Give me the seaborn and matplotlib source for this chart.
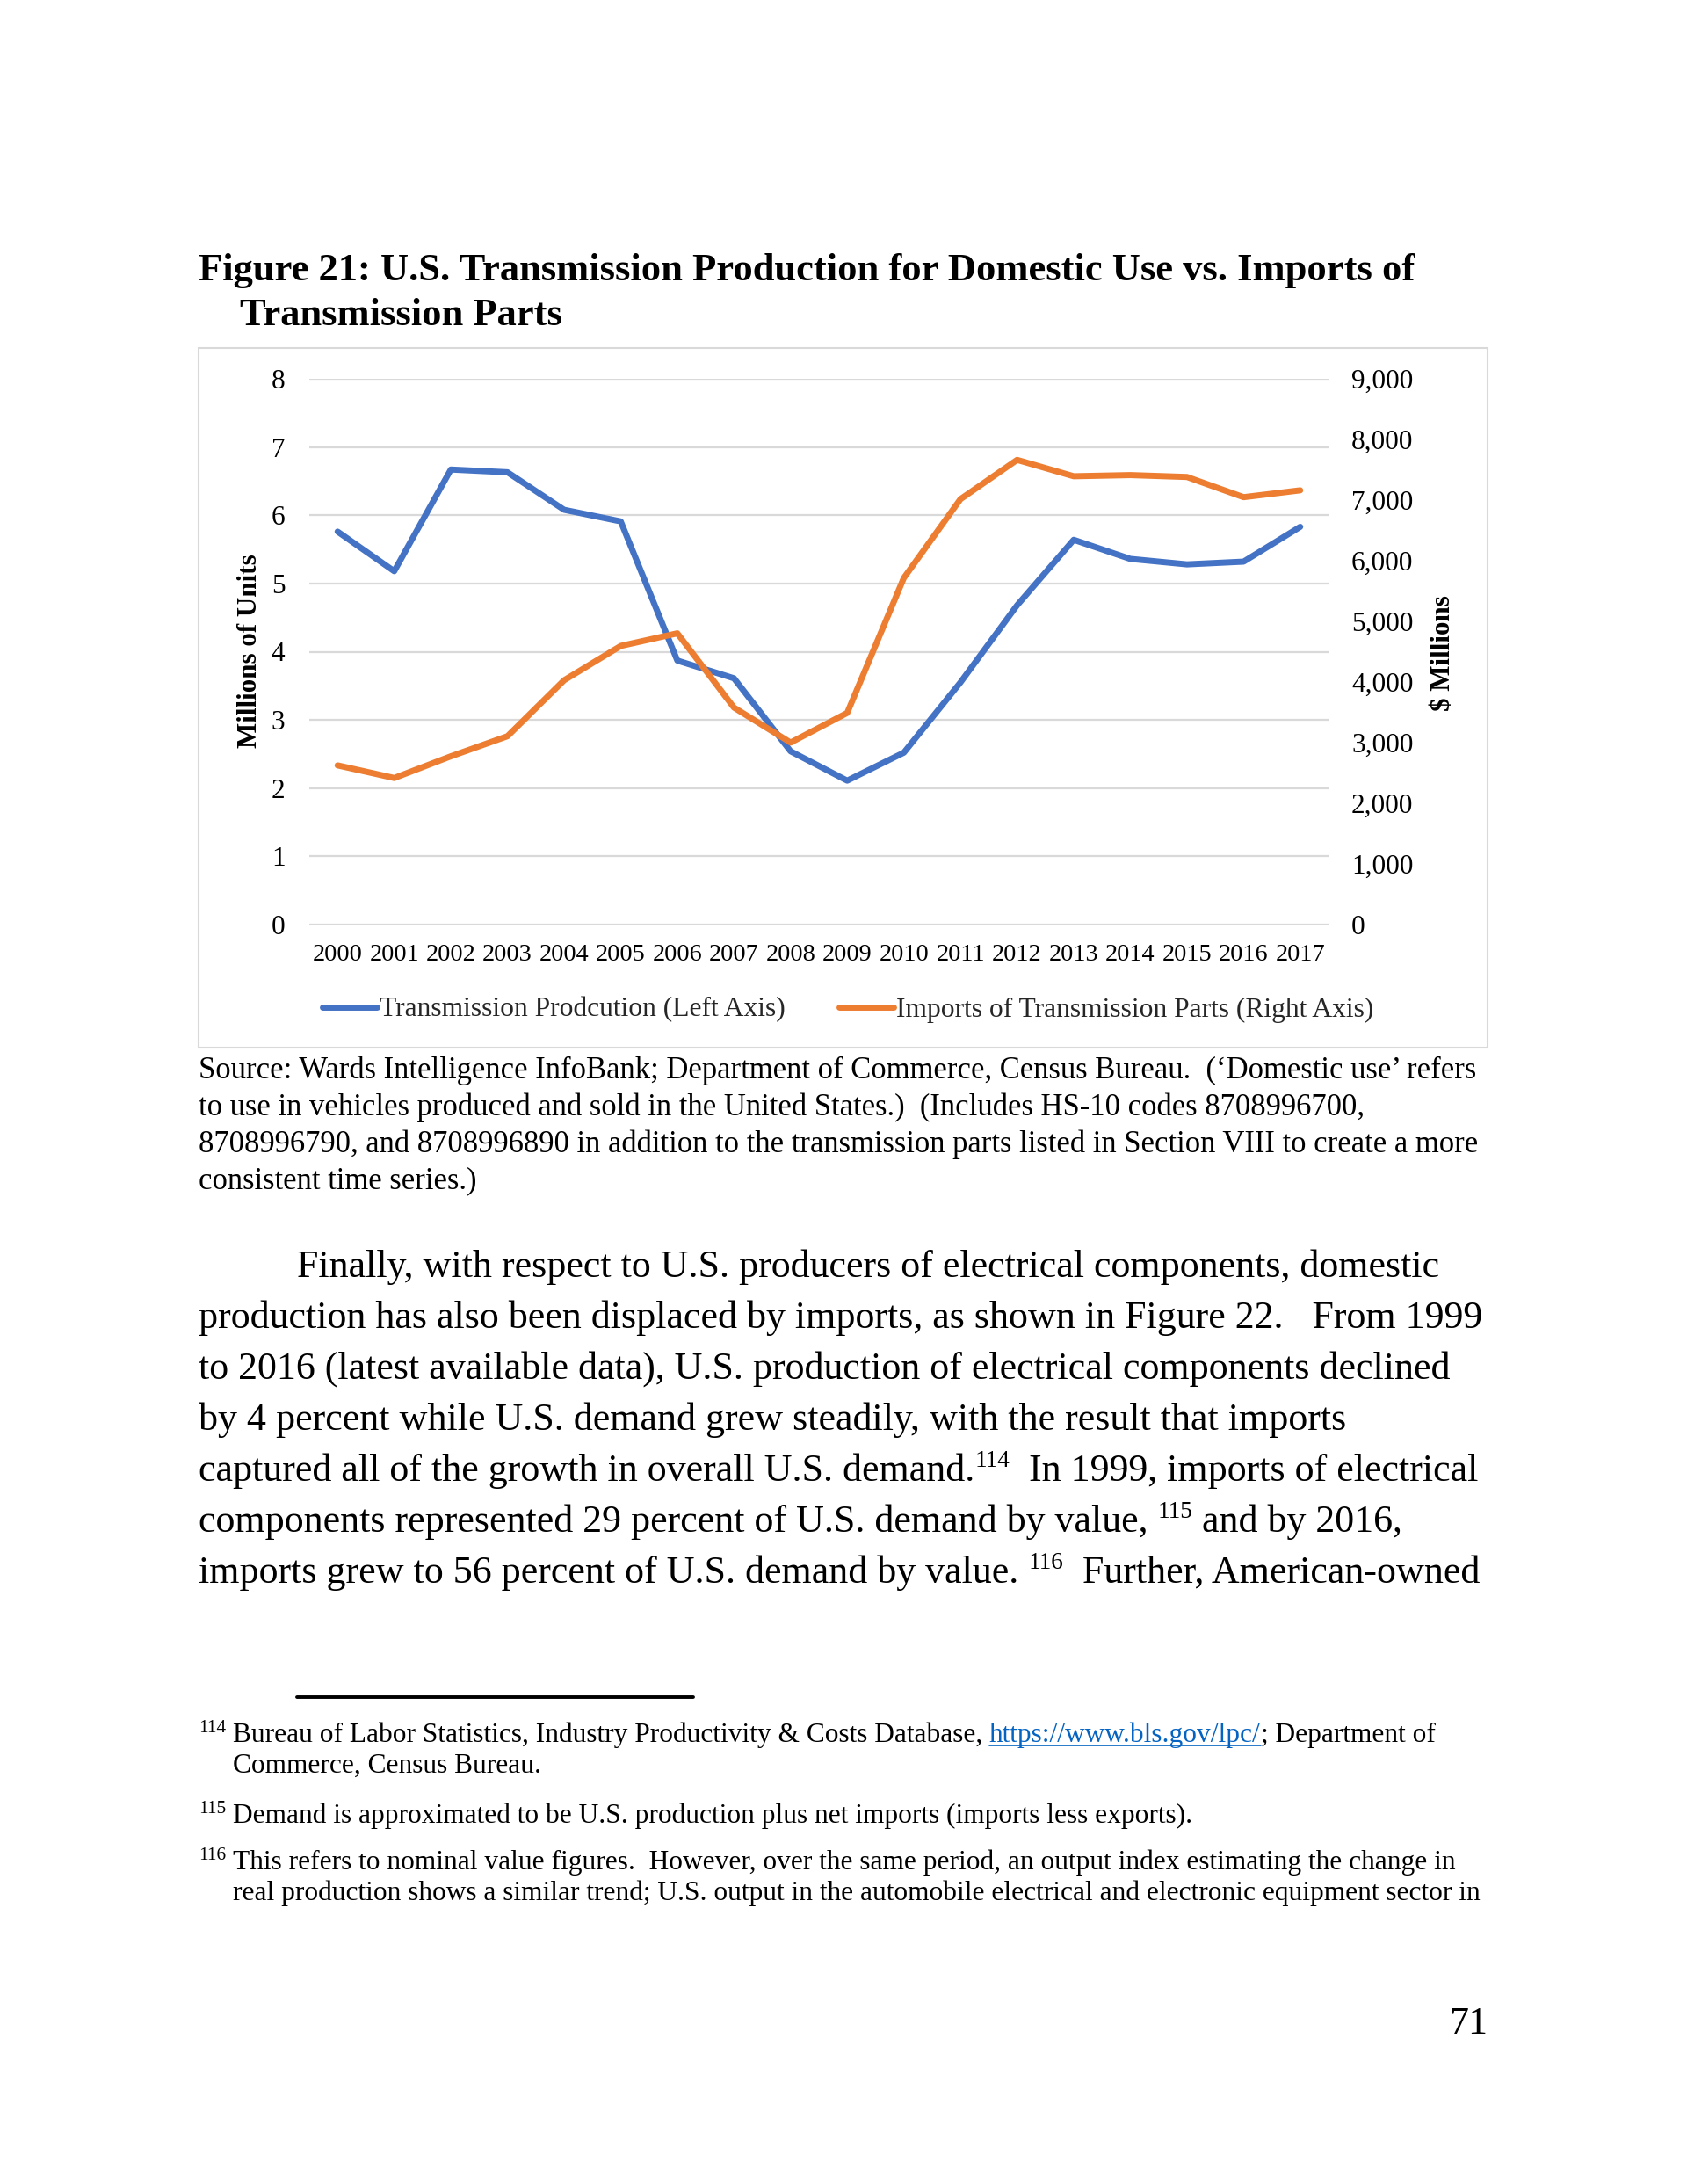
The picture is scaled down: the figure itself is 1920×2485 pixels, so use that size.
import numpy as np
import pandas as pd
import matplotlib
matplotlib.use("Agg")
import matplotlib.pyplot as plt
import seaborn as sns
from matplotlib.font_manager import FontProperties
from matplotlib.lines import Line2D
from matplotlib.patches import Rectangle
from matplotlib.ticker import StrMethodFormatter

# ---------------- data ----------------
years = list(range(2000, 2018))
production = [5.76, 5.18, 6.67, 6.63, 6.08, 5.91, 3.87, 3.61, 2.54, 2.11,
              2.52, 3.55, 4.68, 5.64, 5.36, 5.28, 5.32, 5.83]          # millions of units
imports = [2625, 2417, 2775, 3106, 4029, 4595, 4803, 3578, 3001, 3490,
           5716, 7016, 7663, 7393, 7412, 7381, 7048, 7161]             # $ millions
left_ticks = [0, 1, 2, 3, 4, 5, 6, 7, 8]
right_ticks = [0, 1000, 2000, 3000, 4000, 5000, 6000, 7000, 8000, 9000]
series_labels = ["Transmission Prodcution (Left Axis)",
                 "Imports of Transmission Parts (Right Axis)"]

title_lines = ["Figure 21: U.S. Transmission Production for Domestic Use vs. Imports of",
               "Transmission Parts"]
left_title = "Millions of Units"
right_title = "$ Millions"
source_lines = [
    "Source: Wards Intelligence InfoBank; Department of Commerce, Census Bureau.  (\u2018Domestic use\u2019 refers",
    "to use in vehicles produced and sold in the United States.)  (Includes HS-10 codes 8708996700,",
    "8708996790, and 8708996890 in addition to the transmission parts listed in Section VIII to create a more",
    "consistent time series.)",
]
body_lines = [
    [("Finally, with respect to U.S. producers of electrical components, domestic", "n")],
    [("production has also been displaced by imports, as shown in Figure 22.   From 1999", "n")],
    [("to 2016 (latest available data), U.S. production of electrical components declined", "n")],
    [("by 4 percent while U.S. demand grew steadily, with the result that imports", "n")],
    [("captured all of the growth in overall U.S. demand.", "n"), ("114", "sup"),
     ("  In 1999, imports of electrical", "n")],
    [("components represented 29 percent of U.S. demand by value, ", "n"), ("115", "sup"),
     (" and by 2016,", "n")],
    [("imports grew to 56 percent of U.S. demand by value. ", "n"), ("116", "sup"),
     ("  Further, American-owned", "n")],
]
footnotes = [
    ("114", [[("Bureau of Labor Statistics, Industry Productivity & Costs Database, ", "n"),
              ("https://www.bls.gov/lpc/", "link"), ("; Department of", "n")],
             [("Commerce, Census Bureau.", "n")]]),
    ("115", [[("Demand is approximated to be U.S. production plus net imports (imports less exports).", "n")]]),
    ("116", [[("This refers to nominal value figures.  However, over the same period, an output index estimating the change in", "n")],
             [("real production shows a similar trend; U.S. output in the automobile electrical and electronic equipment sector in", "n")]]),
]
page_number = "71"

# ---------------- style ----------------
sns.set_style("white")
FAM = ["Liberation Serif", "DejaVu Serif"]
plt.rcParams["font.family"] = FAM
BLUE = "#4472C4"
ORANGE = "#ED7D31"
GRID = "#D9D9D9"
TXT = "#000000"
LINK = "#0563C1"

W, H = 1920, 2485
fig = plt.figure(figsize=(W / 100, H / 100), dpi=100)
fig.patch.set_facecolor("white")
renderer = fig.canvas.get_renderer()


def tw(s, size, weight="normal"):
    prop = FontProperties(family=FAM, size=size, weight=weight)
    w1, _, _ = renderer.get_text_width_height_descent("|" + s + "|", prop, ismath=False)
    w0, _, _ = renderer.get_text_width_height_descent("||", prop, ismath=False)
    return w1 - w0


def fit(s, target, weight="normal"):
    return 20.0 * target / tw(s, 20.0, weight)


def put(x, y, s, size, weight="normal", color=TXT, ha="left"):
    fig.text(x / W, 1 - y / H, s, fontsize=size, family=FAM, weight=weight,
             color=color, ha=ha, va="baseline")


def runs(x, y, parts, size):
    px = size * 100 / 72
    for s, kind in parts:
        if kind == "sup":
            sz, yy = size * 0.62, y - 0.36 * px
        else:
            sz, yy = size, y
        col = LINK if kind == "link" else TXT
        put(x, yy, s, sz, color=col)
        w = tw(s, sz)
        if kind == "link":
            fig.add_artist(Line2D([x / W, (x + w) / W], [1 - (y + 4) / H] * 2,
                                  color=LINK, lw=1.2))
        x += w


# ---------------- title ----------------
title_size = fit(title_lines[0], 1380, "bold")
put(226, 319, title_lines[0], title_size, weight="bold")
put(273, 370, title_lines[1], title_size, weight="bold")

# ---------------- chart frame ----------------
fig.add_artist(Rectangle((226 / W, 1 - 1192 / H), (1693 - 226) / W, (1192 - 396) / H,
                         transform=fig.transFigure, fill=False, ec=GRID, lw=1.5))

legend_size = fit(series_labels[0], 461)
year_size = fit("2000", 56)
ytick_size = fit("9,000", 70)
axis_title_size = fit(left_title, 220, "bold")

ax_l, ax_r, ax_t, ax_b = 352, 1512, 431, 1052
ax = fig.add_axes([ax_l / W, 1 - ax_b / H, (ax_r - ax_l) / W, (ax_b - ax_t) / H])
ax2 = ax.twinx()

df_prod = pd.DataFrame({"Year": years, "Units": production})
df_imp = pd.DataFrame({"Year": years, "Value": imports})
sns.lineplot(data=df_prod, x="Year", y="Units", color=BLUE, lw=5, ax=ax,
             label=series_labels[0], legend=False, solid_capstyle="round")
sns.lineplot(data=df_imp, x="Year", y="Value", color=ORANGE, lw=5, ax=ax2,
             label=series_labels[1], legend=False, solid_capstyle="round")

ax.set_xlim(years[0] - 0.5, years[-1] + 0.5)
ax.set_ylim(left_ticks[0], left_ticks[-1])
ax2.set_ylim(right_ticks[0], right_ticks[-1])
ax.set_yticks(left_ticks)
ax2.set_yticks(right_ticks)
ax2.yaxis.set_major_formatter(StrMethodFormatter("{x:,.0f}"))
ax.set_xticks(years)
ax.set_xticklabels([str(y) for y in years])
for a in (ax, ax2):
    for sp in a.spines.values():
        sp.set_visible(False)
    a.set_xlabel("")
    a.set_ylabel("")
ax.grid(False)
ax2.grid(False)
ax.yaxis.grid(True, color=GRID, lw=1.6)
ax.set_axisbelow(True)
ax.tick_params(axis="y", length=0, pad=25.5, labelsize=ytick_size, labelcolor=TXT)
ax.tick_params(axis="x", length=0, pad=16, labelsize=year_size, labelcolor=TXT)
ax2.tick_params(axis="y", length=0, pad=18.7, labelsize=ytick_size, labelcolor=TXT)
for lab in ax.get_yticklabels():
    lab.set_horizontalalignment("center")

fig.text(285 / W, 1 - 741 / H, left_title, rotation=90, ha="center", va="center",
         fontsize=axis_title_size, weight="bold", family=FAM, color=TXT)
fig.text(1642 / W, 1 - 743 / H, right_title, rotation=90, ha="center", va="center",
         fontsize=axis_title_size, weight="bold", family=FAM, color=TXT)

legend_px = legend_size * 100 / 72
handles = [ax.get_lines()[0], ax2.get_lines()[0]]
fig.legend(handles, series_labels, loc="center", bbox_to_anchor=(965 / W, 1 - 1149 / H),
           ncol=2, frameon=False, fontsize=legend_size, handlelength=62 / legend_px,
           handletextpad=0.1, columnspacing=61 / legend_px, borderpad=0, borderaxespad=0)

# ---------------- source ----------------
src_size = fit(source_lines[0], 1451)
for i, line in enumerate(source_lines):
    put(226, 1227 + i * 41.9, line, src_size)

# ---------------- body ----------------
body_size = fit(body_lines[0][0][0], 1300)
for i, parts in enumerate(body_lines):
    runs(338 if i == 0 else 226, 1453 + i * 58.0, parts, body_size)

# ---------------- footnotes ----------------
fig.add_artist(Line2D([338 / W, 789 / W], [1 - 1931 / H] * 2, color="black", lw=2.8))
fn_size = fit("Bureau of Labor Statistics, Industry Productivity & Costs Database, "
              "https://www.bls.gov/lpc/; Department of", 1368)
fn_px = fn_size * 100 / 72
fn_y = [1982, 2074, 2127]
for (num, lines), y0 in zip(footnotes, fn_y):
    put(226, y0 - 0.36 * fn_px, num, fn_size * 0.68)
    for j, parts in enumerate(lines):
        runs(265, y0 + j * 34.9, parts, fn_size)

put(1693, 2314, page_number, body_size, ha="right")

fig.savefig("out.png", dpi=100, facecolor="white")
